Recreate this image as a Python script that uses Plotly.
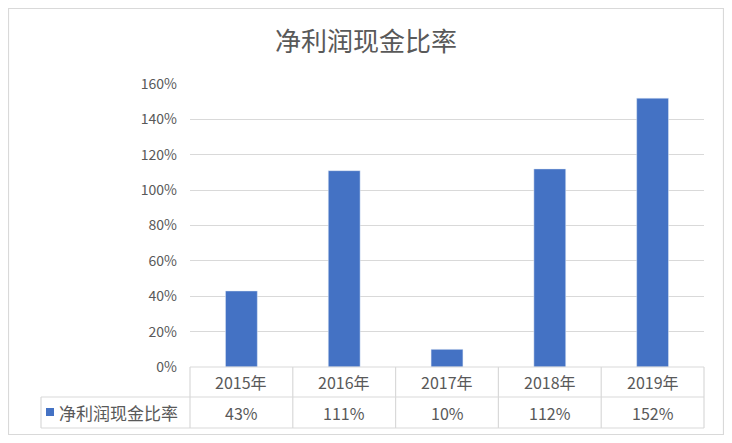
import plotly.graph_objects as go

years = ["2015年", "2016年", "2017年", "2018年", "2019年"]
ratio = [43, 111, 10, 112, 152]
ratio_labels = ["43%", "111%", "10%", "112%", "152%"]
series_name = "净利润现金比率"
y_ticks = [0, 20, 40, 60, 80, 100, 120, 140, 160]
y_tick_text = ["0%", "20%", "40%", "60%", "80%", "100%", "120%", "140%", "160%"]

# page body adds an 8px margin, so the figure is drawn 8px smaller on each side
OFF = 8
W, H = 732 - 2 * OFF, 443 - 2 * OFF
ML, MR, MT, MB = 182, 20, 76, 68
PW, PH = W - ML - MR, H - MT - MB

FONT = "Noto Sans CJK SC"
GREY = "#595959"
LINE = "#d9d9d9"
BLUE = "#4472C4"


# helpers: screen pixel (as in the reference) -> paper coords
def px_x(x):
    return (x - OFF - ML) / PW


def px_y(y):
    return (H - MB - (y - OFF)) / PH


fig = go.Figure()
fig.add_trace(go.Bar(x=years, y=ratio, marker_color=BLUE, width=0.31, name=series_name))

shapes = []
# outer frame
shapes.append(dict(type="rect", xref="paper", yref="paper",
                   x0=px_x(8.5), x1=px_x(723.5), y0=px_y(434.5), y1=px_y(8.5),
                   line=dict(color=LINE, width=1.2)))
# data table grid
row1, row2, row3 = 367, 397, 428
shapes.append(dict(type="line", xref="paper", yref="paper", x0=0, x1=1,
                   y0=px_y(row1), y1=px_y(row1), line=dict(color=LINE, width=1.2)))
for yy in (row2, row3):
    shapes.append(dict(type="line", xref="paper", yref="paper", x0=px_x(41), x1=1,
                       y0=px_y(yy), y1=px_y(yy), line=dict(color=LINE, width=1.2)))
shapes.append(dict(type="line", xref="paper", yref="paper", x0=px_x(41), x1=px_x(41),
                   y0=px_y(row2), y1=px_y(row3), line=dict(color=LINE, width=1.2)))
for i in range(len(years) + 1):
    xx = i / len(years)
    shapes.append(dict(type="line", xref="paper", yref="paper", x0=xx, x1=xx,
                       y0=px_y(row1), y1=px_y(row3), line=dict(color=LINE, width=1.2)))
# legend key
shapes.append(dict(type="rect", xref="paper", yref="paper",
                   x0=px_x(46), x1=px_x(54), y0=px_y(416), y1=px_y(408),
                   fillcolor=BLUE, line=dict(width=0)))

annotations = []
for yr, lab in zip(years, ratio_labels):
    annotations.append(dict(x=yr, xref="x", y=px_y((row1 + row2) / 2), yref="paper",
                            yanchor="middle", text=yr, showarrow=False,
                            font=dict(size=16, color=GREY, family=FONT)))
    annotations.append(dict(x=yr, xref="x", y=px_y((row2 + row3) / 2), yref="paper",
                            yanchor="middle", text=lab, showarrow=False,
                            font=dict(size=16, color=GREY, family=FONT)))
annotations.append(dict(x=px_x(57), xref="paper", y=px_y((row2 + row3) / 2), yref="paper",
                        text=series_name, showarrow=False, xanchor="left", yanchor="middle",
                        font=dict(size=17, color=GREY, family=FONT)))

fig.update_layout(
    width=W, height=H,
    margin=dict(l=ML, r=MR, t=MT, b=MB),
    paper_bgcolor="white", plot_bgcolor="white",
    title=dict(text="净利润现金比率", x=px_x(366), xref="paper", xanchor="center",
               y=1 - (42 - OFF) / H, yanchor="middle",
               font=dict(size=26, color=GREY, family=FONT)),
    font=dict(family=FONT, color=GREY),
    showlegend=False,
    shapes=shapes,
    annotations=annotations,
)
fig.update_xaxes(showticklabels=False, showgrid=False, zeroline=False, showline=False)
fig.update_yaxes(range=[0, 160], tickmode="array", tickvals=y_ticks, ticktext=y_tick_text,
                 showgrid=True, gridcolor=LINE, gridwidth=1.2, zeroline=False,
                 showline=False, ticks="", ticklabelstandoff=12,
                 tickfont=dict(size=14, color=GREY, family=FONT))

fig.write_html("out.html")
